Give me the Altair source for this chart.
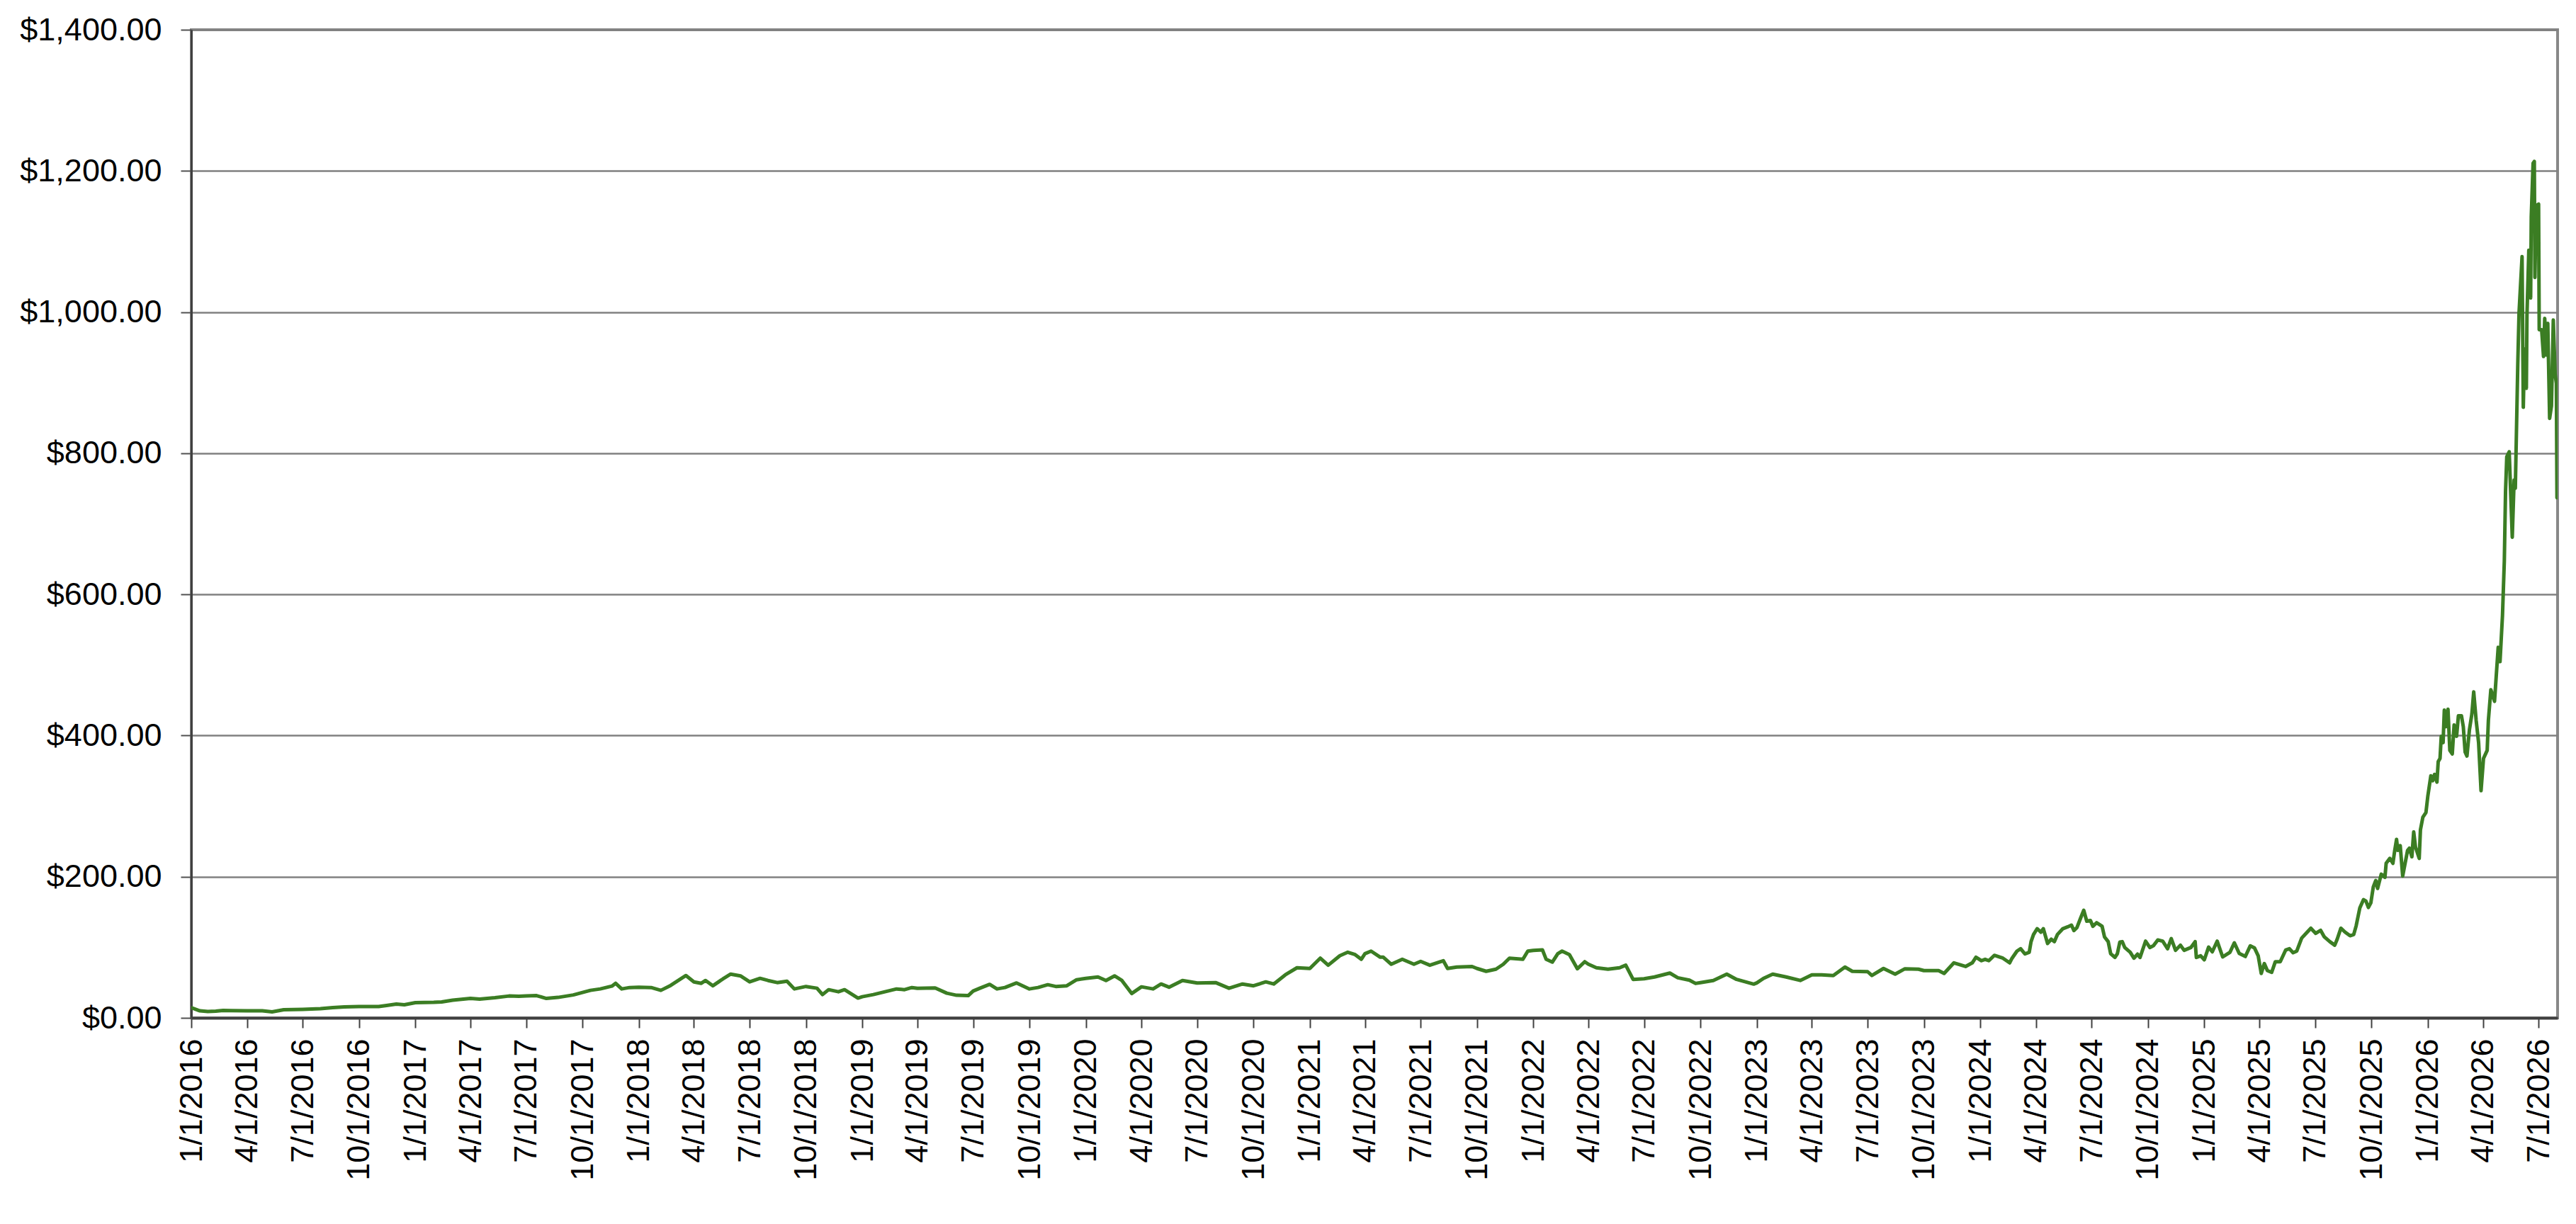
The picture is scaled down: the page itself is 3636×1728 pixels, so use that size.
import pandas as pd
import altair as alt

# daily closing price (irregular sampling)
dates = [
    "2016-01-01", "2016-01-15", "2016-01-28", "2016-02-10", "2016-02-22", "2016-03-06",
    "2016-04-01", "2016-04-26", "2016-05-12", "2016-05-31", "2016-07-01", "2016-07-30",
    "2016-08-19", "2016-09-07", "2016-10-01", "2016-11-02", "2016-11-15", "2016-12-01",
    "2016-12-14", "2017-01-01", "2017-01-31", "2017-02-13", "2017-03-03", "2017-04-01",
    "2017-04-16", "2017-05-11", "2017-06-03", "2017-06-19", "2017-07-01", "2017-07-18",
    "2017-08-03", "2017-08-22", "2017-09-16", "2017-10-01", "2017-10-14", "2017-10-30",
    "2017-11-18", "2017-11-24", "2017-12-04", "2017-12-17", "2018-01-01", "2018-01-21",
    "2018-02-06", "2018-02-22", "2018-03-10", "2018-03-19", "2018-04-01", "2018-04-13",
    "2018-04-20", "2018-05-02", "2018-05-18", "2018-05-31", "2018-06-16", "2018-07-01",
    "2018-07-18", "2018-07-31", "2018-08-15", "2018-08-31", "2018-09-12",
    "2018-10-01", "2018-10-19", "2018-10-28", "2018-11-07", "2018-11-23", "2018-12-03",
    "2018-12-25", "2019-01-01", "2019-01-19", "2019-02-07", "2019-02-26", "2019-03-11",
    "2019-03-23", "2019-04-01", "2019-04-30", "2019-05-19", "2019-06-04", "2019-06-23",
    "2019-07-01", "2019-07-12", "2019-07-28", "2019-08-09", "2019-08-22", "2019-09-10",
    "2019-10-01", "2019-10-15", "2019-10-31", "2019-11-13", "2019-12-01", "2019-12-17",
    "2020-01-01", "2020-01-21", "2020-02-03", "2020-02-17", "2020-02-29", "2020-03-16",
    "2020-04-01", "2020-04-20", "2020-05-03", "2020-05-16", "2020-06-07", "2020-07-01",
    "2020-07-31", "2020-08-22", "2020-09-13", "2020-10-01", "2020-10-21", "2020-11-03",
    "2020-11-22", "2020-12-11", "2021-01-01", "2021-01-18", "2021-01-31", "2021-02-19",
    "2021-03-04", "2021-03-16", "2021-03-26", "2021-04-01", "2021-04-11", "2021-04-26",
    "2021-05-01", "2021-05-14", "2021-06-01", "2021-06-20", "2021-07-01", "2021-07-16",
    "2021-08-07", "2021-08-14", "2021-08-29", "2021-09-23", "2021-10-01", "2021-10-16",
    "2021-11-01", "2021-11-13", "2021-11-23", "2021-12-15", "2021-12-23", "2022-01-01",
    "2022-01-16", "2022-01-22", "2022-02-01", "2022-02-10", "2022-02-17", "2022-03-01",
    "2022-03-14", "2022-03-26", "2022-04-01", "2022-04-14", "2022-05-03", "2022-05-22",
    "2022-06-01", "2022-06-13", "2022-07-01", "2022-07-18", "2022-08-12", "2022-08-25",
    "2022-09-13", "2022-09-23", "2022-10-01", "2022-10-22", "2022-11-13", "2022-11-29",
    "2022-12-27", "2023-01-01", "2023-01-12", "2023-01-27", "2023-02-18", "2023-03-13",
    "2023-04-01", "2023-04-17", "2023-05-06", "2023-05-25", "2023-06-06", "2023-07-01",
    "2023-07-08", "2023-07-27", "2023-08-15", "2023-08-31", "2023-09-22", "2023-10-01",
    "2023-10-25", "2023-11-03", "2023-11-19", "2023-12-08", "2023-12-19", "2023-12-25",
    "2024-01-03", "2024-01-09", "2024-01-15", "2024-01-24", "2024-02-07", "2024-02-18",
    "2024-02-22", "2024-03-01", "2024-03-07", "2024-03-14", "2024-03-21", "2024-03-24",
    "2024-03-28", "2024-04-03", "2024-04-09", "2024-04-13", "2024-04-20", "2024-04-26",
    "2024-05-01", "2024-05-06", "2024-05-15", "2024-05-23", "2024-05-29", "2024-06-02",
    "2024-06-07", "2024-06-13", "2024-06-18", "2024-06-23", "2024-06-29", "2024-07-03",
    "2024-07-09", "2024-07-18", "2024-07-22", "2024-07-28", "2024-08-01", "2024-08-08",
    "2024-08-12", "2024-08-16", "2024-08-20", "2024-08-24", "2024-09-02", "2024-09-08",
    "2024-09-14", "2024-09-18", "2024-09-27", "2024-10-04", "2024-10-10", "2024-10-17",
    "2024-10-25", "2024-11-02", "2024-11-08", "2024-11-15", "2024-11-23", "2024-11-29",
    "2024-12-10", "2024-12-17", "2024-12-19", "2024-12-26", "2025-01-01", "2025-01-08",
    "2025-01-14", "2025-01-22", "2025-01-31", "2025-02-06", "2025-02-12", "2025-02-19",
    "2025-02-27", "2025-03-09", "2025-03-17", "2025-03-24", "2025-03-30", "2025-04-04",
    "2025-04-09", "2025-04-14", "2025-04-21", "2025-04-27", "2025-05-05", "2025-05-14",
    "2025-05-20", "2025-05-26", "2025-06-01", "2025-06-09", "2025-06-18", "2025-06-24",
    "2025-07-02", "2025-07-10", "2025-07-16", "2025-07-25", "2025-08-02", "2025-08-06",
    "2025-08-12", "2025-08-19", "2025-08-27", "2025-09-02", "2025-09-06", "2025-09-12",
    "2025-09-18", "2025-09-22", "2025-09-26", "2025-09-30", "2025-10-04", "2025-10-08",
    "2025-10-11", "2025-10-17", "2025-10-23", "2025-10-25", "2025-10-31", "2025-11-05",
    "2025-11-08", "2025-11-11", "2025-11-13", "2025-11-17", "2025-11-21", "2025-11-29",
    "2025-12-02", "2025-12-06", "2025-12-09", "2025-12-12", "2025-12-18", "2025-12-20",
    "2025-12-24", "2025-12-29", "2026-01-01", "2026-01-06", "2026-01-09", "2026-01-12",
    "2026-01-16", "2026-01-18", "2026-01-21", "2026-01-23", "2026-01-26", "2026-01-28",
    "2026-01-31", "2026-02-03", "2026-02-06", "2026-02-10", "2026-02-13", "2026-02-17",
    "2026-02-20", "2026-02-25", "2026-02-28", "2026-03-03", "2026-03-06", "2026-03-10",
    "2026-03-14", "2026-03-17", "2026-03-21", "2026-03-25", "2026-03-29", "2026-04-02",
    "2026-04-08", "2026-04-10", "2026-04-14", "2026-04-20", "2026-04-23", "2026-04-26",
    "2026-04-29", "2026-05-03", "2026-05-06", "2026-05-08", "2026-05-10", "2026-05-14",
    "2026-05-19", "2026-05-22", "2026-05-24", "2026-05-28", "2026-05-30", "2026-06-04",
    "2026-06-06", "2026-06-08", "2026-06-11", "2026-06-12", "2026-06-15", "2026-06-18",
    "2026-06-19", "2026-06-22", "2026-06-24", "2026-06-25", "2026-06-27", "2026-07-01",
    "2026-07-02", "2026-07-06", "2026-07-09", "2026-07-11", "2026-07-14", "2026-07-16",
    "2026-07-19", "2026-07-22", "2026-07-25", "2026-07-28", "2026-07-30", "2026-07-31",
    "2026-08-01",
]

prices = [
    14.4, 10.0, 9.0, 9.5, 10.5, 10.2,
    10.0, 10.0, 8.5, 11.5, 12.0, 13.0,
    14.5, 15.5, 16.0, 16.0, 17.5, 19.5,
    18.5, 21.5, 22.0, 22.5, 25.0, 27.5,
    26.5, 28.5, 31.0, 30.5, 31.0, 31.5,
    27.5, 29.0, 32.5, 36.0, 39.0, 41.0,
    45.0, 49.0, 41.0, 43.0, 43.5, 43.0,
    39.0, 46.0, 55.0, 60.0, 51.0, 49.0,
    53.0, 45.5, 55.0, 62.0, 59.5, 51.0,
    56.0, 53.0, 50.0, 52.0, 41.0,
    44.5, 42.0, 33.0, 40.0, 37.0, 40.0,
    28.0, 30.0, 33.0, 37.0, 41.0, 40.0,
    43.0, 42.0, 42.5, 35.0, 32.0, 31.5,
    38.0, 42.0, 47.5, 41.0, 43.0, 49.5,
    41.0, 43.0, 47.0, 44.5, 45.5, 54.0,
    56.0, 58.0, 53.0, 59.5, 53.0, 34.5,
    44.0, 41.0, 48.0, 43.5, 53.0, 49.5,
    50.0, 42.0, 48.0, 45.5, 51.0, 48.0,
    61.0, 71.0, 70.0, 84.6, 74.6, 88.0,
    93.0, 89.6, 83.0, 91.0, 94.6, 86.0,
    86.0, 76.0, 83.0, 76.0, 80.0, 74.6,
    81.0, 70.0, 72.0, 72.8, 70.0, 66.0,
    69.0, 76.0, 84.6, 83.0, 94.6, 95.6,
    96.3, 83.0, 79.0, 91.0, 94.6, 89.6,
    69.6, 79.6, 76.0, 71.0, 69.0, 71.0,
    74.6, 54.5, 55.5, 58.0, 63.5, 56.8,
    53.5, 48.8, 50.0, 53.0, 62.0, 54.5,
    47.8, 49.5, 56.0, 62.0, 58.0, 53.0,
    61.0, 61.0, 60.0, 72.0, 66.0, 65.5,
    60.0, 70.0, 62.0, 69.6, 69.0, 67.0,
    67.0, 63.0, 78.0, 72.8, 78.0, 86.0,
    81.0, 83.0, 81.0, 88.6, 84.6, 78.0,
    84.6, 94.6, 98.0, 90.6, 93.0, 108.0,
    118.0, 126.4, 121.4, 126.4, 105.4, 111.4,
    108.0, 118.0, 126.4, 129.0, 131.4, 123.7,
    128.0, 141.5, 152.5, 137.0, 138.0, 129.8,
    134.8, 129.8, 114.7, 108.0, 91.0, 85.6,
    91.0, 107.4, 108.0, 99.7, 93.0, 84.6,
    90.3, 85.6, 108.7, 99.7, 102.3, 110.4,
    108.7, 98.0, 112.4, 95.7, 103.0, 95.7,
    99.7, 108.0, 85.6, 88.0, 82.3, 100.3,
    93.6, 108.7, 86.3, 89.6, 93.0, 106.4,
    91.3, 87.0, 102.0, 99.0, 88.0, 62.9,
    77.0, 67.0, 64.5, 79.6, 79.6, 96.3,
    98.0, 92.3, 94.6, 113.0, 121.4, 127.0,
    119.7, 124.0, 114.7, 108.0, 103.0, 111.4,
    127.0, 121.4, 116.4, 118.0, 130.4, 155.9,
    167.6, 165.4, 156.4, 163.0, 185.6, 194.6,
    183.4, 203.6, 199.0, 219.0, 226.0, 219.0,
    237.3, 253.0, 237.3, 244.0, 201.0, 237.3,
    240.4, 228.3, 263.4, 241.8, 226.0, 266.5,
    284.5, 291.0, 313.7, 343.0, 336.0, 345.0,
    334.0, 363.0, 367.6, 399.0, 390.0, 436.0,
    412.6, 437.3, 379.0, 374.0, 415.0, 399.0,
    428.0, 428.0, 412.6, 376.6, 371.0, 408.0,
    430.6, 462.0, 421.6, 390.0, 321.8, 367.6,
    379.0, 421.6, 465.0, 448.5, 486.7, 525.0,
    504.7, 570.0, 647.0, 746.0, 795.0, 802.0,
    681.0, 762.0, 750.5, 926.0, 998.0, 1078.6,
    865.0, 948.0, 892.0, 995.5, 1087.6, 1020.0,
    1135.0, 1211.0, 1213.5, 1049.0, 1150.6, 1153.0,
    975.0, 975.0, 937.0, 991.0, 939.0, 984.0,
    849.4, 867.0, 988.8, 912.0, 899.0, 737.0,
    876.0,
]

y_ticks = [0, 200, 400, 600, 800, 1000, 1200, 1400]
tick_dates = [alt.DateTime(year=y, month=m, date=1)
              for y in range(2016, 2027) for m in (1, 4, 7, 10)
              if not (y == 2026 and m == 10)]

assert len(dates) == len(prices)
df = pd.DataFrame({"date": [d + "T00:00:00" for d in dates], "price": prices})

font = "Liberation Sans"

chart = alt.Chart(df).mark_line(
    color="#3b7d23", strokeWidth=5, strokeJoin="round", strokeCap="round", clip=True
).encode(
    x=alt.X("date:T", title=None,
            scale=alt.Scale(domain=[alt.DateTime(year=2016, month=1, date=1),
                                    alt.DateTime(year=2026, month=8, date=1)]),
            axis=alt.Axis(values=tick_dates, format="%-m/%-d/%Y", grid=False,
                          labelAngle=270, labelAlign="right", labelBaseline="middle",
                          labelFont=font, labelFontSize=45, labelColor="#000000",
                          labelPadding=15, labelOverlap=False, labelFlush=False,
                          labelLimit=0,
                          domainColor="#404040", domainWidth=4,
                          tickColor="#404040", tickWidth=2, tickSize=14)),
    y=alt.Y("price:Q", title=None,
            scale=alt.Scale(domain=[0, 1400], nice=False, zero=True),
            axis=alt.Axis(values=y_ticks, format="$,.2f",
                          gridColor="#808080", gridWidth=2.5,
                          labelFont=font, labelFontSize=45, labelColor="#000000",
                          labelPadding=27, labelFlush=False, labelLimit=0,
                          domainColor="#404040", domainWidth=3,
                          tickColor="#505050", tickWidth=2, tickSize=15)),
).properties(
    width=3340,
    height=1395,
    padding={"left": 262, "top": 34, "right": 18, "bottom": 270},
    autosize=alt.AutoSizeParams(type="none"),
).configure_view(
    stroke="#888888", strokeWidth=4
)

chart.save("out.html", embed_options={"renderer": "svg", "actions": False})
